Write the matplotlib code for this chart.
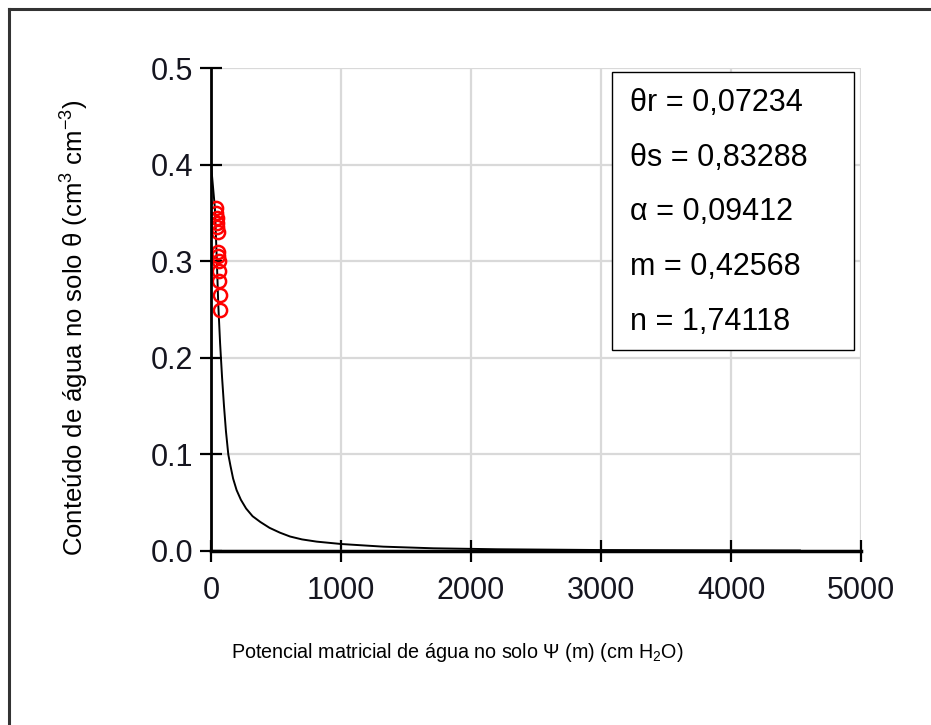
import matplotlib
matplotlib.use("Agg")
from matplotlib import pyplot as plt
from matplotlib.lines import Line2D
from matplotlib.patches import Rectangle

plt.rcParams['font.family'] = ['Liberation Sans', 'DejaVu Sans']
plt.rcParams['mathtext.fontset'] = 'custom'
plt.rcParams['mathtext.rm'] = 'Liberation Sans'
plt.rcParams['mathtext.it'] = 'Liberation Sans'

# curva ajustada
psi_fit = [0, 10, 20, 30, 45, 56, 70, 85, 100, 115, 133, 150, 170, 197, 230, 270,
           320, 380, 450, 530, 608, 700, 813, 1005, 1325, 1710, 2200, 3000,
           3800, 4530]
theta_fit = [0.400, 0.385, 0.370, 0.355, 0.300, 0.255, 0.215, 0.180, 0.150,
             0.124, 0.100, 0.088, 0.075, 0.063, 0.053, 0.044, 0.036, 0.030,
             0.024, 0.019, 0.015, 0.012, 0.0097, 0.0072, 0.0045, 0.0028,
             0.0018, 0.0010, 0.0007, 0.0005]

# pontos observados
psi_obs = [38, 40, 43, 45, 48, 50, 54, 57, 59, 62, 65, 69, 73]
theta_obs = [0.355, 0.350, 0.345, 0.340, 0.335, 0.330, 0.310, 0.305, 0.300,
             0.290, 0.280, 0.265, 0.250]

params = ["θr = 0,07234", "θs = 0,83288", "α = 0,09412", "m = 0,42568", "n = 1,74118"]

xticks = [0, 1000, 2000, 3000, 4000, 5000]
yticks = [0.0, 0.1, 0.2, 0.3, 0.4, 0.5]

fig = plt.figure(figsize=(9.31, 7.25), dpi=100)
ax = fig.add_axes([211/931, 1 - 551/725, 650/931, 483/725])

ax.plot(psi_fit, theta_fit, color='black', lw=1.4, zorder=3)
ax.plot(psi_obs, theta_obs, 'o', mfc='none', mec='red', ms=9.5, mew=1.8, zorder=4)

ax.set_xlim(0, 5000)
ax.set_ylim(0, 0.5)
ax.set_xticks(xticks)
ax.set_yticks(yticks)
ax.set_xticklabels([str(t) for t in xticks])
ax.set_yticklabels(["%.1f" % t for t in yticks])

for s in ['top', 'right']:
    ax.spines[s].set_visible(False)
ax.spines['left'].set_linewidth(2)
ax.spines['bottom'].set_linewidth(2.5)
ax.spines['left'].set_zorder(5)
ax.spines['bottom'].set_zorder(5)

ax.tick_params(axis='both', direction='inout', length=16, width=1.6,
               labelsize=22, labelcolor='#15151f')
ax.tick_params(axis='x', pad=10)
ax.tick_params(axis='y', pad=5)

ax.grid(True, color='#d9d9d9', lw=1.6, zorder=0)
ax.set_axisbelow(True)

# caixa dos parametros
box = Rectangle((0.617, 0.416), 0.372, 0.576, transform=ax.transAxes,
                facecolor='white', edgecolor='black', lw=1.0, zorder=6)
ax.add_patch(box)
line_y = [0.927, 0.813, 0.702, 0.588, 0.474]
for txt, yy in zip(params, line_y):
    ax.text(0.645, yy, txt, transform=ax.transAxes, fontsize=22,
            va='center', ha='left', zorder=7)

fig.text(457/931, 1 - 653/725, "Potencial matricial de água no solo Ψ (m) (cm H$_2$O)",
         fontsize=14.2, ha='center', va='center')
fig.text(75/931, 1 - 328/725, "Conteúdo de água no solo θ (cm$^3$ cm$^{-3}$)",
         fontsize=18.5, ha='center', va='center', rotation=90)

# moldura externa
fig.add_artist(Line2D([9/931, 9/931], [0, 1 - 9/725], color='#333333', lw=2.2))
fig.add_artist(Line2D([9/931, 1], [1 - 9/725, 1 - 9/725], color='#333333', lw=2.2))

fig.savefig("out.png", dpi=100)
